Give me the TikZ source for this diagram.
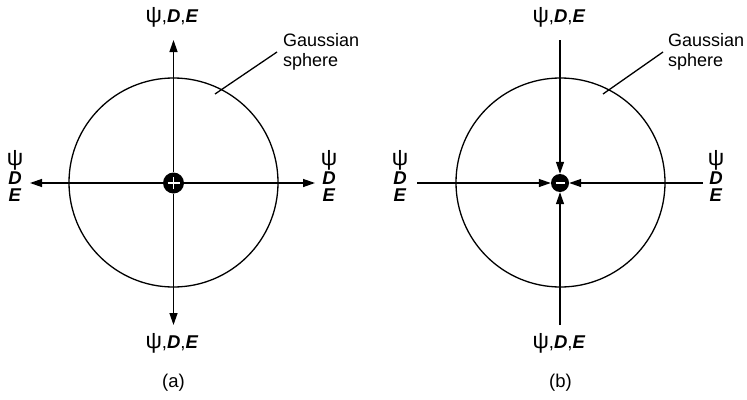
\documentclass[tikz,border=0pt]{standalone}
\usepackage{fontspec}
\setmainfont{Liberation Sans}
\usetikzlibrary{arrows.meta}
\newcommand{\bi}[1]{\textbf{\textit{#1}}}
\newcommand{\psym}{{\fontsize{23}{17}\selectfont ψ}}
\begin{document}
\begin{tikzpicture}[x=1pt,y=-1pt,
  lbl/.style={font=\fontsize{18.5}{17}\selectfont, inner sep=0pt, align=center},
  ln/.style={line width=1.3pt},
  sgn/.style={white,line width=1.3pt},
  arr/.style={ln,-{Triangle[length=12pt,width=8pt]}},
  sphere/.style={circle,draw,line width=1.3pt,inner sep=0pt,minimum size=209pt},
  dot/.style={circle,fill=black,inner sep=0pt}]
\useasboundingbox (0,0) rectangle (747,399);

% ---------- panel (a)
\node[sphere] (sa) at (173.5,182.5) {};
\node[dot,minimum size=21pt] (ca) at (173.5,183) {};
\draw[sgn] ([xshift=-6pt]ca.center) -- ([xshift=6pt]ca.center);
\draw[sgn] ([yshift=-6pt]ca.center) -- ([yshift=6pt]ca.center);
\coordinate (aN) at (173.5,40);
\coordinate (aS) at (173.5,325);
\coordinate (aW) at (30,183);
\coordinate (aE) at (315,183);
\draw[arr] (ca) -- (aN);
\draw[arr] (ca) -- (aS);
\draw[arr] (ca) -- (aW);
\draw[arr] (ca) -- (aE);
\node[lbl] (laN) at (172,17) {\psym,\bi{D},\bi{E}};
\node[lbl] (laS) at (172,343) {\psym,\bi{D},\bi{E}};
\node[lbl] (laW) at (15,176) {\psym\\\bi{D}\\\bi{E}};
\node[lbl] (laE) at (329,176) {\psym\\\bi{D}\\\bi{E}};
\node[lbl,align=left,anchor=north west,font=\fontsize{18}{20}\selectfont] (ga) at (283,33) {Gaussian\\sphere};
\coordinate (gaA) at (215,94);
\coordinate (gaB) at (277,52);
\draw[ln] (gaA) -- (gaB);
\node[lbl] (capa) at (173.5,383) {(a)};

% ---------- panel (b)
\node[sphere] (sb) at (560.5,182.5) {};
\node[dot,minimum size=18pt] (cb) at (560,183) {};
\draw[sgn] ([xshift=-4.5pt]cb.center) -- ([xshift=4.5pt]cb.center);
\coordinate (bN) at (560,40);
\coordinate (bS) at (560,325);
\coordinate (bW) at (417,183);
\coordinate (bE) at (703,183);
\draw[arr] (bN) -- (cb);
\draw[arr] (bS) -- (cb);
\draw[arr] (bW) -- (cb);
\draw[arr] (bE) -- (cb);
\node[lbl] (lbN) at (559,17) {\psym,\bi{D},\bi{E}};
\node[lbl] (lbS) at (559,343) {\psym,\bi{D},\bi{E}};
\node[lbl] (lbW) at (400,176) {\psym\\\bi{D}\\\bi{E}};
\node[lbl] (lbE) at (716,176) {\psym\\\bi{D}\\\bi{E}};
\node[lbl,align=left,anchor=north west,font=\fontsize{18}{20}\selectfont] (gb) at (668,33) {Gaussian\\sphere};
\coordinate (gbA) at (603,94);
\coordinate (gbB) at (663,52);
\draw[ln] (gbA) -- (gbB);
\node[lbl] (capb) at (560.5,383) {(b)};
\end{tikzpicture}
\end{document}
